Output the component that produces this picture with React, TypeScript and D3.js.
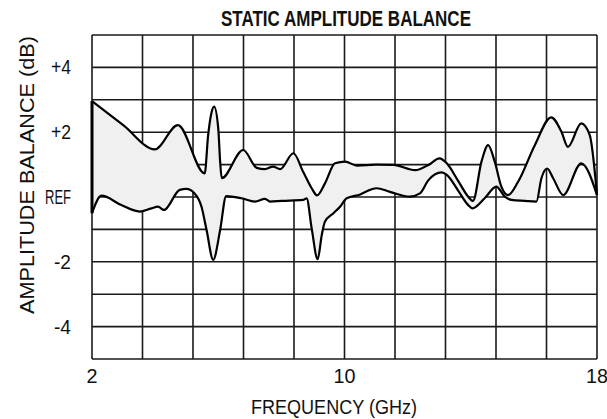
import React, { useEffect, useRef } from 'react';
import * as d3 from 'd3';

// upper trace (GHz, dB)
const upperFreq = [2.0, 3.0, 3.99, 4.72, 5.57, 5.68, 5.78, 5.87, 6.0, 6.06, 6.11, 6.79, 7.22, 7.48, 7.74, 7.96, 8.38, 8.69, 8.96, 9.13, 9.38, 9.7, 10.02, 10.39, 11.0, 11.55, 12.24, 12.66, 13.01, 13.24, 13.6, 13.92, 14.07, 14.34, 14.55, 14.76, 14.97, 15.18, 15.5, 16.03, 16.55, 16.87, 17.08, 17.5, 17.77, 18.0];
const upperDb = [2.96, 2.21, 1.47, 2.22, 0.73, 1.91, 2.58, 2.79, 2.12, 1.09, 0.58, 1.45, 0.9, 0.86, 0.94, 0.86, 1.35, 0.78, 0.27, 0.05, 0.42, 1.04, 1.09, 0.97, 1.0, 0.99, 0.83, 0.99, 1.19, 1.04, 0.5, 0.01, -0.12, 1.09, 1.6, 1.09, 0.32, 0.06, 0.47, 1.6, 2.46, 2.02, 1.55, 2.27, 1.91, 0.06];

// lower trace (GHz, dB)
const lowerFreq = [2.0, 2.3, 2.93, 3.51, 3.88, 4.09, 4.28, 4.78, 4.99, 5.25, 5.47, 5.63, 5.84, 6.06, 6.25, 6.74, 7.16, 7.48, 7.64, 8.01, 8.69, 8.8, 8.96, 9.15, 9.28, 9.38, 9.65, 9.86, 10.07, 10.5, 10.81, 11.02, 11.44, 12.07, 12.39, 12.66, 13.08, 13.24, 13.6, 13.92, 14.05, 14.44, 14.81, 15.08, 15.29, 15.71, 16.08, 16.24, 16.42, 16.61, 16.93, 17.5, 18.0];
const lowerDb = [-0.5, 0.04, -0.25, -0.45, -0.35, -0.3, -0.4, 0.22, 0.25, 0.11, -0.3, -1.02, -1.94, -1.02, 0.03, -0.04, -0.14, -0.06, -0.14, -0.12, -0.09, -0.04, -0.97, -1.92, -1.17, -0.76, -0.5, -0.3, -0.04, 0.08, 0.22, 0.27, 0.16, 0.01, 0.11, 0.52, 0.76, 0.68, 0.2, -0.25, -0.35, -0.04, 0.32, 0.01, -0.09, -0.12, -0.14, 0.58, 0.88, 0.58, 0.06, 1.04, 0.06];

const yTickValues = [4, 2, 0, -2, -4];
const yTickLabels = ['+4', '+2', 'REF', '-2', '-4'];
const xTickValues = [2, 10, 18];

const FONT = "'Liberation Sans', Arial, sans-serif";

const App: React.FC = () => {
    const svgRef = useRef<SVGSVGElement>(null);

    useEffect(() => {
        if (!svgRef.current) return;
        const svg = d3.select(svgRef.current);
        svg.selectAll('*').remove();

        const left = 92, right = 597, top = 35, bottom = 359;

        const x = d3.scaleLinear().domain([2, 18]).range([left, right]);
        const y = d3.scaleLinear().domain([-5, 5]).range([bottom, top]);

        const upper = upperFreq.map((f, i) => [f, upperDb[i]] as [number, number]);
        const lower = lowerFreq.map((f, i) => [f, lowerDb[i]] as [number, number]);

        // grid
        d3.range(11).forEach(i => {
            const gx = left + (right - left) * i / 10;
            svg.append('line')
                .attr('x1', gx).attr('x2', gx).attr('y1', top).attr('y2', bottom)
                .attr('stroke', '#1a1a1a').attr('stroke-width', 1.6);
            const gy = top + (bottom - top) * i / 10;
            svg.append('line')
                .attr('x1', left).attr('x2', right).attr('y1', gy).attr('y2', gy)
                .attr('stroke', '#1a1a1a').attr('stroke-width', 1.6);
        });

        // fill between traces: area above lower, clipped to area below upper
        const curve = d3.curveMonotoneX;
        const underUpper = d3.area<[number, number]>()
            .x(d => x(d[0])).y0(bottom).y1(d => y(d[1])).curve(curve);
        const overLower = d3.area<[number, number]>()
            .x(d => x(d[0])).y0(top).y1(d => y(d[1])).curve(curve);

        svg.append('clipPath').attr('id', 'band-clip')
            .append('path').attr('d', underUpper(upper) as string);

        svg.append('path')
            .attr('d', overLower(lower) as string)
            .attr('clip-path', 'url(#band-clip)')
            .attr('fill', '#f0f0f0');

        const line = d3.line<[number, number]>().x(d => x(d[0])).y(d => y(d[1])).curve(curve);

        [upper, lower].forEach(series => {
            svg.append('path')
                .attr('d', line(series) as string)
                .attr('fill', 'none')
                .attr('stroke', '#000')
                .attr('stroke-width', 2.2)
                .attr('stroke-linejoin', 'round');
        });

        // left edge of band
        svg.append('line')
            .attr('x1', x(2)).attr('x2', x(2))
            .attr('y1', y(upperDb[0])).attr('y2', y(lowerDb[0]))
            .attr('stroke', '#000').attr('stroke-width', 3);

        // condensed-looking text: squeeze Liberation Sans to the measured width
        const label = (tx: number, ty: number, str: string, size: number, len: number, opts: { anchor?: string; bold?: boolean; rotate?: boolean } = {}) => {
            const t = svg.append('text')
                .attr('x', opts.rotate ? 0 : tx)
                .attr('y', opts.rotate ? 0 : ty)
                .attr('text-anchor', opts.anchor || 'middle')
                .attr('font-family', FONT)
                .attr('font-size', size + 'px')
                .attr('textLength', len)
                .attr('lengthAdjust', 'spacingAndGlyphs')
                .attr('fill', '#111')
                .text(str);
            if (opts.bold) t.attr('font-weight', 'bold');
            if (opts.rotate) t.attr('transform', `translate(${tx}, ${ty}) rotate(-90)`);
            return t;
        };

        // y tick labels
        const yLens: Record<string, number> = { '+4': 20, '+2': 20, 'REF': 26, '-2': 17, '-4': 17 };
        yTickValues.forEach((v, i) => {
            label(71, y(v) + 7, yTickLabels[i], 20, yLens[yTickLabels[i]], { anchor: 'end' });
        });

        // x tick labels
        xTickValues.forEach(v => {
            const s = String(v);
            label(x(v), 383, s, 20, s.length === 1 ? 11 : 22);
        });

        label(334, 414, 'FREQUENCY (GHz)', 21, 166);
        label(34, 175, 'AMPLITUDE BALANCE (dB)', 21, 278, { rotate: true });
        label(346, 26, 'STATIC AMPLITUDE BALANCE', 22, 250, { bold: true });
    }, []);

    return (
        <svg ref={svgRef} width="607" height="419"
            style={{ position: 'absolute', left: 0, top: 0, background: '#fff' }}></svg>
    );
};

export default App;
